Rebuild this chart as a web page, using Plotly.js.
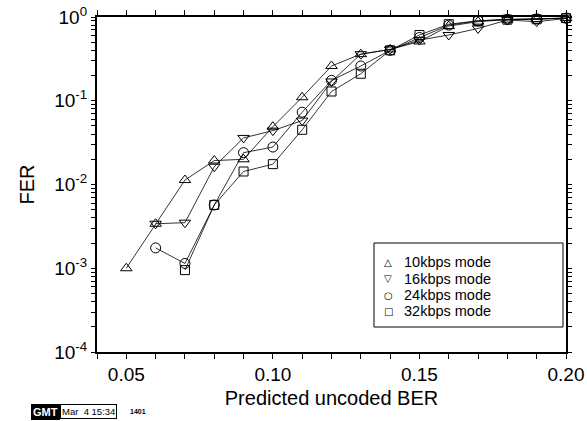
<!DOCTYPE html>
<html>
<head>
<meta charset="utf-8">
<script src="https://cdn.plot.ly/plotly-3.0.1.min.js"></script>
<style>html,body{margin:0;padding:0;background:#fff;}#chart{width:587px;height:421px;}</style>
</head>
<body>
<div id="chart"></div>
<script>
// ---- data ----
const x10 = [0.05,0.06,0.07,0.08,0.09,0.10,0.11,0.12,0.13,0.14,0.15,0.16,0.17,0.18,0.19,0.20];
const y10 = [1.0e-3,3.4e-3,0.0113,0.0193,0.0200,0.049,0.110,0.26,0.36,0.41,0.51,0.78,0.88,0.93,0.94,0.97];

const x16 = [0.06,0.07,0.08,0.09,0.10,0.11,0.12,0.13,0.14,0.15,0.16,0.17,0.18,0.19,0.20];
const y16 = [3.4e-3,3.5e-3,0.0163,0.036,0.044,0.058,0.17,0.36,0.41,0.53,0.61,0.73,0.92,0.88,0.96];

const x24 = [0.06,0.07,0.08,0.09,0.10,0.11,0.12,0.13,0.14,0.15,0.16,0.17,0.18,0.19,0.20];
const y24 = [1.75e-3,1.14e-3,5.7e-3,0.024,0.028,0.073,0.175,0.26,0.40,0.57,0.80,0.90,0.94,0.95,0.97];

const x32 = [0.07,0.08,0.09,0.10,0.11,0.12,0.13,0.14,0.15,0.16,0.17,0.18,0.19,0.20];
const y32 = [9.5e-4,5.7e-3,0.0143,0.0175,0.045,0.129,0.21,0.40,0.61,0.82,0.90,0.93,0.94,0.97];

const seriesNames = ['10kbps mode','16kbps mode','24kbps mode','32kbps mode'];
const seriesGlyphs = ['\u25B3','\u25BD','\u25CB','\u25A1'];

const xLabelVals = [0.05,0.10,0.15,0.20];
const xLabelText = ['0.05','0.10','0.15','0.20'];
const yLabelVals = [1e-4,1e-3,1e-2,1e-1,1];
const yLabelText = ['10<sup>-4</sup>','10<sup>-3</sup>','10<sup>-2</sup>','10<sup>-1</sup>','10<sup>0</sup>'];

// ---- build ----
const FONT = 'Liberation Sans, Arial, Helvetica, sans-serif';
const symbols = ['triangle-up-open','triangle-down-open','circle-open','square-open'];
const sizes = [10,10,10,9];
const xs = [x10,x16,x24,x32], ys = [y10,y16,y24,y32];

const traces = xs.map((x,i)=>({
  x: x, y: ys[i], type:'scatter', mode:'lines+markers', name: seriesNames[i],
  line:{color:'#000', width:0.8},
  marker:{symbol:symbols[i], size:sizes[i], color:'#000', line:{color:'#000', width:1}},
  showlegend:false, cliponaxis:false
}));

// tick positions: every 0.01 on x (labelled every 0.05), 1..9 per decade on y (labelled at decades)
function labelFor(v, vals, texts){
  for (let i=0;i<vals.length;i++) if (Math.abs(v-vals[i]) < 1e-9*Math.max(1,Math.abs(vals[i]))) return texts[i];
  return '';
}
const xTickVals = [], xTickText = [];
for (let k=4; k<=20; k++){ const v=k/100; xTickVals.push(v); xTickText.push(labelFor(v,xLabelVals,xLabelText)); }
const yTickVals = [], yTickText = [];
for (let d=-4; d<=0; d++){
  for (let k=1; k<=(d<0?9:1); k++){
    const v = k*Math.pow(10,d);
    yTickVals.push(v);
    yTickText.push(k===1 ? labelFor(v,yLabelVals,yLabelText) : '');
  }
}

const ann = [];
const shapes = [];
// manual legend box
shapes.push({type:'rect', xref:'paper', yref:'paper', x0:0.5906, x1:0.9936, y0:0.0746, y1:0.3254,
  line:{color:'#000', width:1}, fillcolor:'#fff', layer:'above'});
const rowY = [0.2672,0.2186,0.1700,0.1214];
seriesNames.forEach((n,i)=>{
  ann.push({xref:'paper', yref:'paper', x:0.6205, y:rowY[i], text:seriesGlyphs[i], showarrow:false,
    xanchor:'center', yanchor:'middle', font:{family:'DejaVu Sans', size:10, color:'#000'}});
  ann.push({xref:'paper', yref:'paper', x:0.6503, y:rowY[i], text:n, showarrow:false,
    xanchor:'left', yanchor:'middle', font:{family:FONT, size:14.5, color:'#000'}});
});
// GMT time stamp
ann.push({xref:'paper', yref:'paper', x:-0.0789, y:-0.179, text:'<b>GMT</b>', showarrow:false,
  xanchor:'right', yanchor:'middle', bgcolor:'#000', bordercolor:'#000', borderwidth:1, borderpad:1,
  font:{family:FONT, size:11, color:'#fff'}});
ann.push({xref:'paper', yref:'paper', x:-0.0789, y:-0.179, text:'Mar  4 15:34', showarrow:false,
  xanchor:'left', yanchor:'middle', bgcolor:'#fff', bordercolor:'#000', borderwidth:1, borderpad:1,
  font:{family:FONT, size:9.5, color:'#000'}});
ann.push({xref:'paper', yref:'paper', x:0.0661, y:-0.179, text:'<b>1401</b>', showarrow:false,
  xanchor:'left', yanchor:'middle', font:{family:FONT, size:7, color:'#000'}});

const layout = {
  width:587, height:421,
  margin:{l:97, r:21, t:17, b:69},
  paper_bgcolor:'#fff', plot_bgcolor:'#fff',
  font:{family:FONT, color:'#000'},
  showlegend:false,
  xaxis:{
    range:[0.04,0.20],
    tickmode:'array', tickvals:xTickVals, ticktext:xTickText,
    ticks:'outside', ticklen:5, tickwidth:1, tickcolor:'#000',
    showline:true, linecolor:'#000', linewidth:1.6, mirror:'allticks',
    showgrid:false, zeroline:false,
    tickfont:{family:FONT, size:19},
    title:{text:'Predicted uncoded BER', font:{family:FONT, size:20}, standoff:6}
  },
  yaxis:{
    type:'log', range:[-4,0],
    tickmode:'array', tickvals:yTickVals, ticktext:yTickText,
    ticks:'outside', ticklen:4.5, tickwidth:1, tickcolor:'#000',
    showline:true, linecolor:'#000', linewidth:1.6, mirror:'allticks',
    showgrid:false, zeroline:false,
    tickfont:{family:FONT, size:19},
    title:{text:'FER', font:{family:FONT, size:20}, standoff:14}
  },
  annotations:ann,
  shapes:shapes
};

Plotly.newPlot('chart', traces, layout, {staticPlot:true, displayModeBar:false});
</script>
</body>
</html>
